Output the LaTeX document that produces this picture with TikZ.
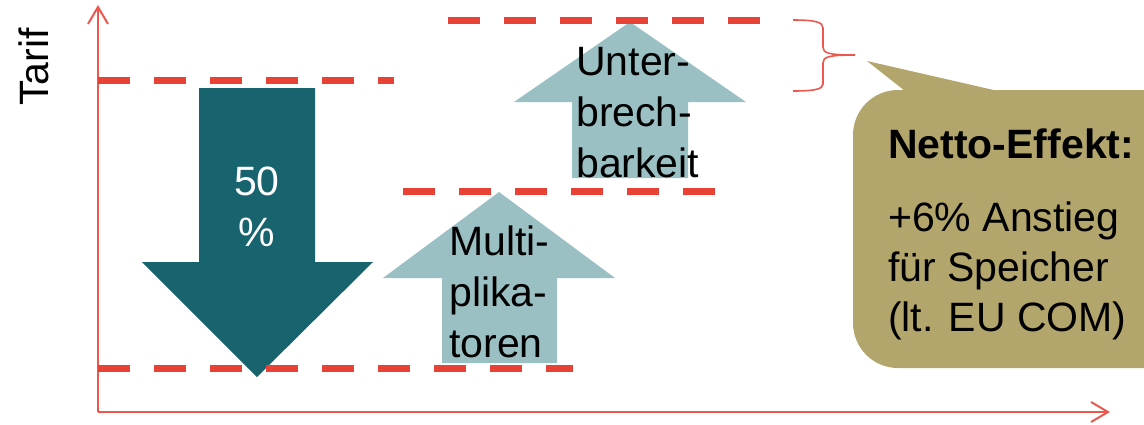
\documentclass[tikz,border=0pt]{standalone}
\usepackage{fontspec}
\setmainfont{Liberation Sans}
\usetikzlibrary{arrows.meta}
\definecolor{dashred}{RGB}{232,65,54}
\definecolor{axisred}{RGB}{236,88,78}
\definecolor{darkteal}{RGB}{23,99,110}
\definecolor{lightteal}{RGB}{155,192,196}
\definecolor{calloutfill}{RGB}{179,166,108}
\begin{document}
\begin{tikzpicture}[x=1pt,y=-1pt,
  axisline/.style={draw=axisred, line width=2pt, -{Straight Barb[length=17pt,width=20pt]}},
  levelline/.style={draw=dashred, line width=7pt, dash pattern=on 32pt off 24pt},
  bracestyle/.style={draw=axisred, line width=1.6pt},
  bigtext/.style={font=\fontsize{41}{51}\selectfont, inner sep=0pt},
  calltext/.style={font=\fontsize{41}{50}\selectfont, inner sep=0pt, align=left, anchor=base west}]
\useasboundingbox (0,0) rectangle (1144,424);
\clip (0,0) rectangle (1144,424);

% axes
\coordinate (O) at (98,412);
\coordinate (ytop) at (98,5);
\coordinate (xend) at (1110,412);
\draw[axisline] (O) -- (ytop);
\draw[axisline] (O) -- (xend);
\node[bigtext, rotate=90, anchor=base] (tarif) at (48,67) {Tarif};

% arrows
\fill[darkteal] (199,88) -- (315,88) -- (315,262) -- (373,262) -- (257,377) -- (142,262) -- (199,262) -- cycle;
\fill[lightteal] (442,363) -- (442,278) -- (383,278) -- (499,192) -- (615,278) -- (557,278) -- (557,363) -- cycle;
\fill[lightteal] (572,178) -- (572,102) -- (514,102) -- (630,22) -- (746,102) -- (688,102) -- (688,178) -- cycle;

% level lines
\draw[levelline] (98,80) -- (394,80);
\draw[levelline] (448,20) -- (760,20);
\draw[levelline] (403,191) -- (715,191);
\draw[levelline] (98,368) -- (573,368);

% texts in arrows (base anchor = baseline of the last line)
\node[bigtext, text=white, align=center, anchor=base] (pct) at (257,246) {50\\\%};
\node[bigtext, align=left, anchor=base west] (multi) at (449,357) {Multi-\\plika-\\toren};
\node[bigtext, align=left, anchor=base west] (unter) at (576,177) {Unter-\\brech-\\barkeit};

% brace
\draw[bracestyle] (793,20) .. controls (815,20) and (823,22) .. (823,28) -- (823,47)
  .. controls (823,53) and (828,55) .. (855,55)
  .. controls (828,55) and (823,57) .. (823,63) -- (823,84)
  .. controls (823,89) and (815,91) .. (793,91);

% callout
\fill[calloutfill, rounded corners=45pt] (853,90) rectangle (1220,368);
\fill[calloutfill] (905,91) -- (867,61) -- (998,91) -- cycle;
\node[calltext, font=\fontsize{41}{50}\selectfont\bfseries] (netto) at (888,158) {Netto-Effekt:};
\node[calltext] (effect) at (888,331) {+6\% Anstieg\\für Speicher\\(lt. EU COM)};
\end{tikzpicture}
\end{document}
